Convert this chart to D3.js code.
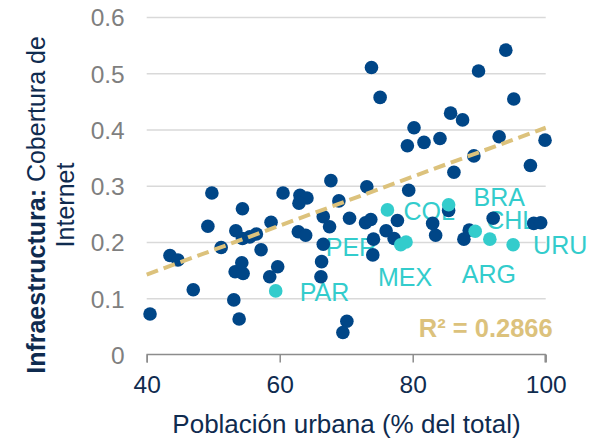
<!DOCTYPE html>
<html>
<head>
<meta charset="utf-8">
<script src="https://cdn.jsdelivr.net/npm/d3@7"></script>
<style>
body { margin:0; background:#fff; }
svg { font-family: Arial, "Liberation Sans", sans-serif; }
</style>
</head>
<body>
<svg width="595" height="443"></svg>
<script>
// urbanization (% of total) vs internet coverage, all countries
var otherX = [40.5,43.5,44.7,47.0,49.8,49.2,51.2,53.1,53.9,53.3,54.5,54.3,53.4,54.4,55.5,56.5,54.4,57.2,58.7,58.5,
    59.7,60.5,63.05,64.1,62.9,62.8,63.9,66.3,66.2,66.55,67.5,66.55,67.7,68.9,70.5,70.1,69.5,73.1,72.9,73.7,
    74.1,74.0,76.0,77.2,77.7,73.8,75.1,79.4,79.2,80.2,81.7,84.1,83.0,83.45,85.4,85.7,86.2,87.5,88.5,87.7,
    89.2,89.9,93.0,94.0,95.2,92.1,97.7,98.2,99.25,99.9]
var otherY = [0.073,0.177,0.169,0.116,0.288,0.229,0.191,0.098,0.064,0.148,0.145,0.164,0.221,0.207,0.210,0.215,0.260,0.187,0.236,0.139,
    0.157,0.288,0.284,0.279,0.270,0.219,0.213,0.166,0.139,0.246,0.228,0.197,0.310,0.274,0.243,0.060,0.040,0.299,0.235,0.241,
    0.206,0.178,0.221,0.207,0.239,0.511,0.458,0.293,0.372,0.404,0.378,0.385,0.234,0.213,0.257,0.430,0.325,0.418,0.222,0.206,
    0.354,0.505,0.388,0.542,0.455,0.243,0.337,0.234,0.235,0.382]

// highlighted countries
var hiNames = ["PAR","COL","BRA","PER","MEX","CHL","ARG","URU"]
var hiX = [59.4,76.2,85.4,78.2,79.0,89.4,91.6,95.1]
var hiY = [0.114,0.258,0.267,0.196,0.201,0.220,0.206,0.196]

// trend line end points and fit
var trendX = [40,100]
var trendY = [0.143,0.404]
var r2Label = "R² = 0.2866"

var xTicks = [40,60,80,100]
var yTicks = [0,0.1,0.2,0.3,0.4,0.5,0.6]

// label offsets from each point (px)
var labelPos = {
    PAR:[24,10], COL:[16,10], BRA:[25,1], PER:[-75,11], MEX:[-28,44], CHL:[11,-2], ARG:[-28,44], URU:[20,9]
}

var dark = "#004687"
var cyan = "#33cccc"
var gold = "#dcc27c"
var navy = "#0f2b4f"

var svg = d3.select("svg")
var margins = {top:17.5, left:146.7}
var width = 399
var height = 337.5

var xScale = d3.scaleLinear().domain([40,100]).range([0,width])
var yScale = d3.scaleLinear().domain([0,0.6]).range([height,0])

var graph = svg.append("g")
    .attr("transform","translate("+margins.left+","+margins.top+")")

// gridlines
graph.append("g").selectAll("line")
    .data(yTicks.slice(1))
    .enter()
    .append("line")
    .attr("x1",0)
    .attr("x2",width)
    .attr("y1",function(d){return yScale(d)})
    .attr("y2",function(d){return yScale(d)})
    .attr("stroke","#d9d9d9")
    .attr("stroke-width",1.3)

// y tick labels
graph.append("g").selectAll("text")
    .data(yTicks)
    .enter()
    .append("text")
    .attr("x",-22)
    .attr("y",function(d){return yScale(d)})
    .attr("dy","0.36em")
    .attr("text-anchor","end")
    .attr("fill","#7f7f7f")
    .attr("font-size","24.5px")
    .text(function(d){return d3.format("")(d)})

// x axis
var xAxis = d3.axisBottom(xScale).tickValues(xTicks).tickSize(8).tickPadding(13)
var xg = graph.append("g")
    .attr("transform","translate(0,"+(height-0.5)+")")
    .call(xAxis)
xg.select(".domain").attr("stroke","#8c8c8c").attr("stroke-width",1.5).attr("d","M0.5,8V0H"+(width-0.5)+"V8")
xg.selectAll(".tick line").attr("stroke","#8c8c8c").attr("stroke-width",1.5)
xg.selectAll(".tick text").attr("fill",navy).attr("font-size","24.5px").attr("font-family","Arial, 'Liberation Sans', sans-serif")

// country labels (under the dots)
graph.append("g").selectAll("text")
    .data(hiNames)
    .enter()
    .append("text")
    .attr("x",function(d,i){return xScale(hiX[i])+labelPos[d][0]})
    .attr("y",function(d,i){return yScale(hiY[i])+labelPos[d][1]})
    .attr("fill",cyan)
    .attr("font-size","25px")
    .text(function(d){return d})

// dots
graph.append("g").selectAll("circle")
    .data(otherX)
    .enter()
    .append("circle")
    .attr("cx",function(d){return xScale(d)})
    .attr("cy",function(d,i){return yScale(otherY[i])})
    .attr("r",6.8)
    .attr("fill",dark)

graph.append("g").selectAll("circle")
    .data(hiX)
    .enter()
    .append("circle")
    .attr("cx",function(d){return xScale(d)})
    .attr("cy",function(d,i){return yScale(hiY[i])})
    .attr("r",6.8)
    .attr("fill",cyan)

// trend
var line = d3.line()
    .x(function(d){return xScale(d)})
    .y(function(d,i){return yScale(trendY[i])})
graph.append("path")
    .datum(trendX)
    .attr("d",line)
    .attr("fill","none")
    .attr("stroke",gold)
    .attr("stroke-width",4)
    .attr("stroke-dasharray","12,6")

// r squared
graph.append("text")
    .attr("x",width+7)
    .attr("y",yScale(0)-18)
    .attr("text-anchor","end")
    .attr("fill",gold)
    .attr("font-weight","bold")
    .attr("font-size","25.5px")
    .text(r2Label)

// axis titles
svg.append("text")
    .attr("x",346.5)
    .attr("y",433)
    .attr("text-anchor","middle")
    .attr("fill",navy)
    .attr("font-size","26px")
    .text("Población urbana (% del total)")

var yt = svg.append("text")
    .attr("transform","translate(45,205) rotate(-90)")
    .attr("text-anchor","middle")
    .attr("fill",navy)
    .attr("font-size","25px")
yt.append("tspan").attr("font-weight","bold").text("Infraestructura:")
yt.append("tspan").text(" Cobertura de")
svg.append("text")
    .attr("transform","translate(74,205) rotate(-90)")
    .attr("text-anchor","middle")
    .attr("fill",navy)
    .attr("font-size","25px")
    .text("Internet")
</script>
</body>
</html>
